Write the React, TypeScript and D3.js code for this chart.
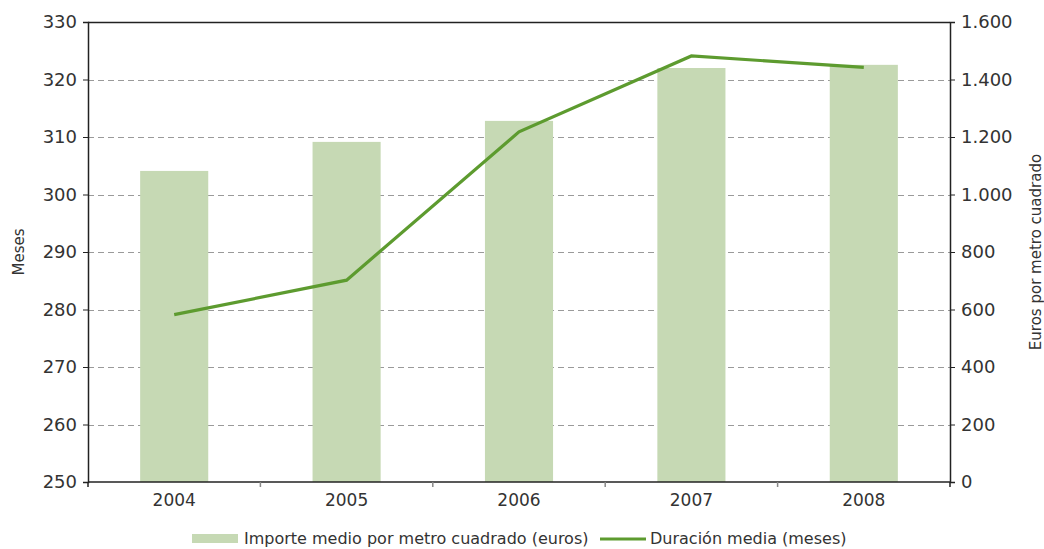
import React, { useEffect, useRef } from "react";
import * as d3 from "d3";

const years = ["2004", "2005", "2006", "2007", "2008"];
const importeEuros = [1082, 1183, 1256, 1440, 1451];
const duracionMeses = [279.1, 285.1, 310.9, 324.1, 322.1];
const mesesTicks = [250, 260, 270, 280, 290, 300, 310, 320, 330];
const eurosTicks = [0, 200, 400, 600, 800, 1000, 1200, 1400, 1600];

const WIDTH = 1044;
const HEIGHT = 549;
const MARGIN = { top: 22, right: 94, bottom: 67, left: 88 };
const FONT = "'DejaVu Sans', sans-serif";
const BAR_COLOR = "#c6d9b4";
const LINE_COLOR = "#5d9b2f";

const fmtEuro = (v: number) => d3.format(",")(v).replace(/,/g, ".");

export default function App() {
  const svgRef = useRef<SVGSVGElement | null>(null);

  useEffect(() => {
    const svg = d3.select(svgRef.current);
    svg.selectAll("*").remove();

    const w = WIDTH - MARGIN.left - MARGIN.right;
    const h = HEIGHT - MARGIN.top - MARGIN.bottom;

    const x = d3.scaleBand().domain(years).range([0, w]).paddingInner(0.605).paddingOuter(0.3025);
    const xc = d3.scalePoint().domain(years).range([0, w]).padding(0.5);
    const yL = d3.scaleLinear().domain([250, 330]).range([h, 0]);
    const yR = d3.scaleLinear().domain([0, 1600]).range([h, 0]);

    const g = svg.append("g").attr("transform", `translate(${MARGIN.left},${MARGIN.top})`);

    // gridlines
    g.append("g")
      .selectAll("line")
      .data(mesesTicks.slice(1, -1))
      .join("line")
      .attr("x1", 0)
      .attr("x2", w)
      .attr("y1", (d) => Math.round(yL(d)) + 0.5)
      .attr("y2", (d) => Math.round(yL(d)) + 0.5)
      .attr("stroke", "#9a9a9a")
      .attr("stroke-dasharray", "6,4");

    // bars
    g.append("g")
      .selectAll("rect")
      .data(years)
      .join("rect")
      .attr("x", (d) => x(d)!)
      .attr("width", x.bandwidth())
      .attr("y", (_, i) => yR(importeEuros[i]))
      .attr("height", (_, i) => h - yR(importeEuros[i]))
      .attr("fill", BAR_COLOR);

    // line
    const line = d3
      .line<number>()
      .x((_, i) => xc(years[i])!)
      .y((d) => yL(d));
    g.append("path")
      .attr("d", line(duracionMeses)!)
      .attr("fill", "none")
      .attr("stroke", LINE_COLOR)
      .attr("stroke-width", 3.2);

    // top border
    g.append("line").attr("x1", 0).attr("x2", w).attr("y1", 0.5).attr("y2", 0.5).attr("stroke", "#222").attr("stroke-width", 1.5);

    // left axis
    const left = g
      .append("g")
      .call(d3.axisLeft(yL).tickValues(mesesTicks).tickSize(5).tickPadding(6));
    // right axis
    const right = g
      .append("g")
      .attr("transform", `translate(${w},0)`)
      .call(d3.axisRight(yR).tickValues(eurosTicks).tickSize(5).tickPadding(6).tickFormat((d) => fmtEuro(d as number)));

    [left, right].forEach((ax) => {
      ax.select(".domain").attr("stroke", "#222").attr("stroke-width", 1.5);
      ax.selectAll(".tick line").attr("stroke", "#222");
      ax.selectAll("text").attr("font-family", FONT).attr("font-size", 18).attr("fill", "#333");
    });

    // bottom axis
    const bottom = g.append("g").attr("transform", `translate(0,${h})`);
    bottom.append("line").attr("x1", 0).attr("x2", w).attr("stroke", "#222").attr("stroke-width", 1.5);
    bottom
      .selectAll("line.tk")
      .data(d3.range(years.length + 1))
      .join("line")
      .attr("class", "tk")
      .attr("x1", (i) => (w / years.length) * i)
      .attr("x2", (i) => (w / years.length) * i)
      .attr("y1", 0)
      .attr("y2", 5)
      .attr("stroke", (i) => (i === 0 || i === years.length ? "#222" : "#888"))
      .attr("stroke-width", 1.5);
    bottom
      .selectAll("text")
      .data(years)
      .join("text")
      .attr("x", (d) => xc(d)!)
      .attr("y", 24)
      .attr("text-anchor", "middle")
      .attr("font-family", FONT)
      .attr("font-size", 17)
      .attr("fill", "#333")
      .text((d) => d);

    // axis titles
    svg
      .append("text")
      .attr("transform", `translate(24,${MARGIN.top + h / 2}) rotate(-90)`)
      .attr("text-anchor", "middle")
      .attr("font-family", FONT)
      .attr("font-size", 15)
      .attr("fill", "#333")
      .text("Meses");
    svg
      .append("text")
      .attr("transform", `translate(1041,${MARGIN.top + h / 2}) rotate(-90)`)
      .attr("text-anchor", "middle")
      .attr("font-family", FONT)
      .attr("font-size", 15)
      .attr("fill", "#333")
      .text("Euros por metro cuadrado");

    // legend
    const lg = svg.append("g").attr("transform", "translate(0,539)");
    lg.append("rect").attr("x", 192).attr("y", -5).attr("width", 46).attr("height", 9).attr("fill", BAR_COLOR);
    lg.append("text")
      .attr("x", 244)
      .attr("y", 5)
      .attr("font-family", FONT)
      .attr("font-size", 16)
      .attr("fill", "#333")
      .text("Importe medio por metro cuadrado (euros)");
    lg.append("line").attr("x1", 600).attr("x2", 646).attr("y1", 0).attr("y2", 0).attr("stroke", LINE_COLOR).attr("stroke-width", 3);
    lg.append("text")
      .attr("x", 650)
      .attr("y", 5)
      .attr("font-family", FONT)
      .attr("font-size", 16)
      .attr("fill", "#333")
      .text("Duración media (meses)");
  }, []);

  return <svg ref={svgRef} width={WIDTH} height={HEIGHT} style={{ display: "block", position: "absolute", left: 0, top: 0 }} />;
}
